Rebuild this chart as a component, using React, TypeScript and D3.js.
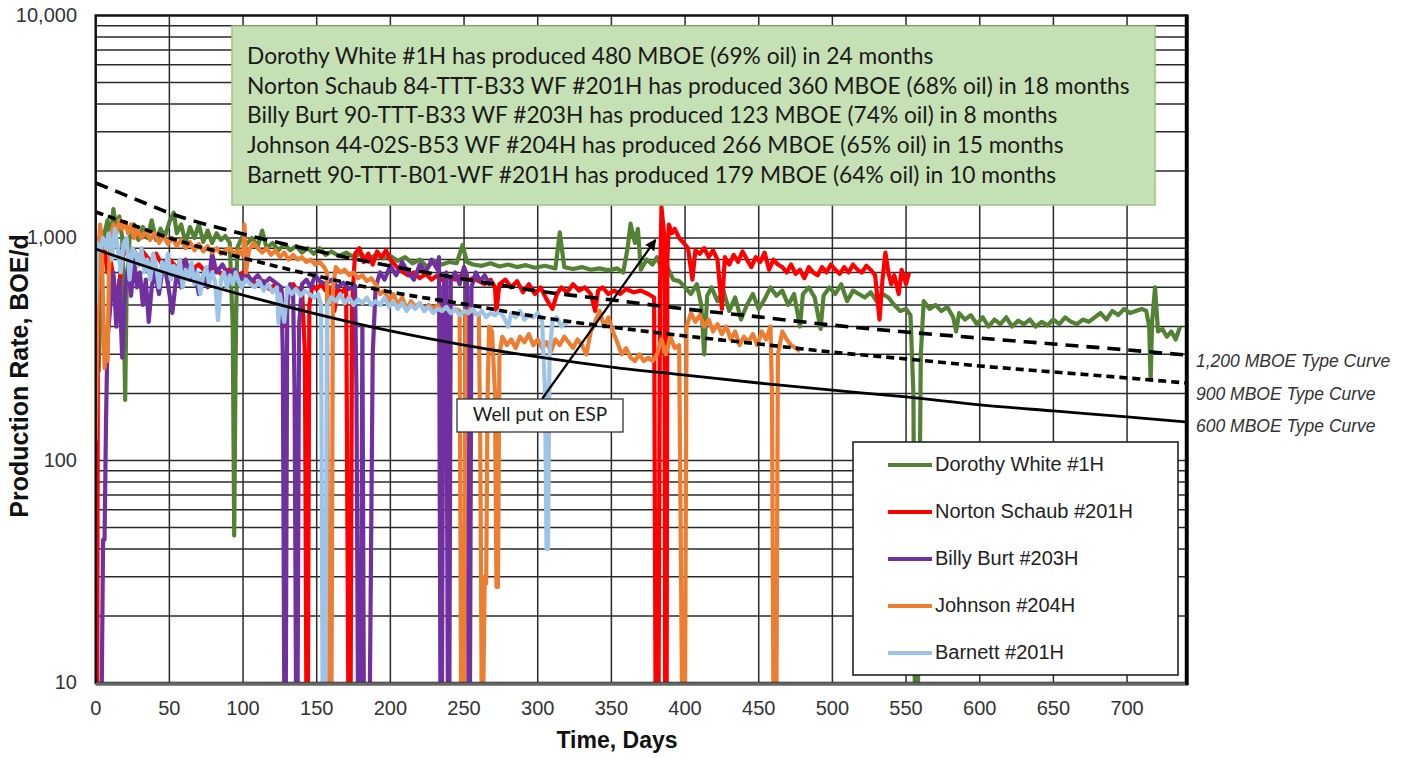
import React, { useEffect, useRef } from "react";
import * as d3 from "d3";

// ---- data ----
const xTicks = [0, 50, 100, 150, 200, 250, 300, 350, 400, 450, 500, 550, 600, 650, 700];
const yTicks = [10, 100, 1000, 10000];

const wellNames = ["Dorothy White #1H", "Norton Schaub #201H", "Billy Burt #203H", "Johnson #204H", "Barnett #201H"];
const wellColors = ["#548235", "#ff0000", "#7030a0", "#ed7d31", "#9dc3e6"];

const dorothyWhite: [number, number][] = [
  [2, 250], [4, 700], [6, 1050], [8, 1200], [10, 950], [12, 1350], [14, 1100], [16, 1250], [18, 1000], [19, 500],
  [20, 187], [21, 600], [23, 1000], [26, 1150], [29, 980], [32, 1120], [35, 1000], [38, 1200], [41, 980], [44, 1100],
  [47, 1020], [50, 1180], [53, 1300], [55, 1050], [58, 1150], [61, 950], [64, 1120], [67, 1000], [70, 1150], [73, 960],
  [76, 1080], [79, 950], [82, 1050], [85, 980], [88, 1020], [91, 950], [93, 400], [94, 46], [95, 300], [96, 900],
  [99, 1000], [102, 930], [106, 1000], [110, 920], [113, 1080], [116, 900], [120, 950], [124, 880], [128, 940], [132, 880],
  [136, 920], [140, 860], [144, 900], [148, 850], [152, 900], [156, 840], [160, 870], [165, 830], [170, 860], [175, 820],
  [180, 850], [185, 800], [190, 840], [195, 810], [200, 830], [205, 790], [210, 820], [215, 770], [220, 800], [225, 740],
  [230, 790], [235, 760], [240, 780], [245, 770], [249, 930], [252, 780], [256, 760], [262, 750], [268, 770], [274, 745],
  [280, 760], [286, 740], [292, 755], [298, 735], [305, 750], [312, 730], [315, 1060], [318, 740], [324, 725], [330, 740],
  [336, 720], [342, 730], [348, 715], [354, 730], [358, 700], [361, 900], [363, 1160], [366, 950], [368, 1100], [370, 720],
  [374, 800], [378, 760], [381, 820], [385, 700], [388, 740], [392, 650], [396, 640], [400, 600], [404, 560], [408, 620],
  [411, 500], [413, 300], [415, 550], [418, 600], [422, 520], [426, 580], [430, 470], [434, 540], [438, 430], [442, 500],
  [446, 560], [450, 480], [454, 530], [458, 600], [462, 550], [466, 580], [470, 500], [474, 560], [478, 400], [480, 560],
  [484, 600], [488, 540], [492, 390], [494, 550], [498, 600], [502, 560], [506, 620], [510, 520], [514, 580], [518, 560],
  [522, 540], [526, 570], [530, 520], [534, 560], [538, 540], [542, 500], [546, 470], [550, 480], [553, 450], [555, 200],
  [556, 8], [558, 8], [560, 300], [562, 520], [566, 480], [570, 500], [574, 470], [578, 490], [582, 440], [584, 380],
  [586, 460], [590, 430], [594, 450], [598, 410], [602, 440], [606, 400], [610, 430], [614, 410], [618, 440], [622, 400],
  [626, 425], [630, 410], [634, 430], [638, 400], [642, 420], [646, 405], [650, 430], [654, 410], [658, 440], [662, 420],
  [666, 410], [670, 430], [674, 420], [678, 440], [682, 460], [686, 430], [690, 470], [694, 450], [698, 480], [702, 460],
  [706, 470], [710, 480], [713, 470], [715, 400], [716, 230], [717, 420], [719, 600], [721, 380], [724, 390], [727, 360],
  [730, 380], [733, 350], [736, 400],
];

const nortonSchaub: [number, number][] = [
  [0, 8], [1, 8], [1.5, 500], [2, 850], [4, 750], [6, 900], [8, 700], [10, 800], [13, 600], [15, 450],
  [17, 750], [20, 900], [23, 820], [26, 880], [29, 800], [32, 870], [35, 820], [38, 780], [41, 850], [45, 760],
  [50, 800], [55, 740], [60, 780], [65, 720], [70, 760], [75, 700], [80, 740], [85, 690], [90, 720], [95, 660],
  [100, 700], [105, 650], [110, 620], [114, 640], [118, 590], [122, 620], [126, 580], [129, 400], [131, 600], [134, 620],
  [137, 580], [140, 600], [142, 300], [143, 8], [144, 8], [145, 500], [147, 610], [150, 590], [153, 620], [156, 580],
  [159, 600], [162, 470], [164, 590], [167, 570], [170, 600], [171.5, 8], [173, 8], [174, 500], [176, 850], [179, 900],
  [182, 780], [185, 850], [188, 760], [191, 870], [194, 820], [197, 880], [200, 800], [203, 760], [206, 720], [209, 700],
  [212, 680], [216, 700], [220, 660], [224, 690], [228, 650], [232, 680], [236, 640], [240, 670], [244, 650], [248, 680],
  [252, 640], [256, 660], [260, 640], [264, 620], [268, 650], [271, 600], [272, 470], [274, 620], [278, 650], [282, 600],
  [286, 640], [290, 570], [294, 620], [298, 560], [302, 600], [306, 530], [310, 480], [313, 560], [316, 600], [320, 570],
  [324, 620], [328, 580], [332, 600], [336, 560], [339, 470], [341, 580], [344, 600], [348, 560], [352, 580], [356, 560],
  [360, 590], [365, 570], [370, 580], [375, 560], [379, 540], [380, 8], [382, 8], [383, 600], [384, 1380], [386, 1000],
  [386.5, 8], [387.5, 8], [388, 800], [389, 1150], [391, 1050], [393, 1100], [396, 1000], [399, 950], [402, 900], [405, 650],
  [407, 880], [410, 850], [413, 900], [416, 820], [419, 880], [422, 800], [425, 480], [427, 820], [430, 760], [433, 840],
  [436, 780], [439, 870], [442, 800], [445, 740], [448, 820], [451, 780], [454, 860], [457, 720], [460, 800], [463, 760],
  [466, 740], [469, 700], [472, 760], [475, 690], [478, 720], [481, 660], [484, 740], [487, 700], [490, 680], [493, 740],
  [496, 700], [499, 760], [502, 720], [505, 690], [508, 740], [511, 700], [514, 760], [517, 720], [520, 700], [523, 750],
  [526, 720], [529, 680], [532, 430], [534, 650], [536, 860], [538, 700], [540, 620], [542, 680], [545, 560], [547, 720],
  [550, 620], [552, 700],
];

const billyBurt: [number, number][] = [
  [4, 8], [5, 44], [6, 44], [7, 150], [8, 350], [10, 500], [12, 700], [14, 400], [16, 650], [18, 290],
  [20, 600], [22, 750], [24, 550], [26, 800], [28, 600], [30, 700], [32, 500], [34, 650], [36, 420], [38, 600],
  [40, 700], [43, 560], [46, 780], [49, 620], [52, 460], [55, 700], [58, 600], [61, 800], [64, 650], [67, 720],
  [70, 560], [73, 680], [76, 600], [79, 850], [82, 700], [86, 760], [90, 680], [94, 720], [98, 650], [102, 700],
  [106, 640], [110, 680], [114, 620], [118, 660], [122, 630], [126, 600], [127, 300], [128, 8], [129, 8], [130, 500],
  [132, 620], [134, 560], [135, 200], [136, 8], [137, 8], [138, 400], [140, 620], [143, 650], [146, 600], [149, 680],
  [152, 640], [156, 620], [160, 650], [164, 600], [168, 630], [172, 590], [176, 610], [177, 200], [178, 8], [180, 8],
  [181, 400], [182, 8], [185, 8], [186, 8], [188, 300], [190, 600], [193, 700], [196, 650], [200, 750], [204, 680],
  [208, 780], [212, 700], [216, 650], [220, 760], [224, 700], [228, 800], [232, 720], [233, 820], [234, 8], [235, 8],
  [236, 600], [238, 700], [239, 8], [240, 8], [241, 650], [244, 700], [247, 620], [250, 740], [252, 680], [253, 8],
  [254, 8], [255, 600], [258, 700], [261, 640], [264, 680], [267, 620], [268, 650],
];

const johnson: [number, number][] = [
  [0, 123], [1, 400], [2, 900], [3, 1150], [4, 1000], [5, 500], [6, 260], [7, 400], [8, 280], [9, 700],
  [10, 1000], [12, 1150], [14, 1050], [16, 1200], [18, 1100], [20, 1180], [22, 1050], [24, 1150], [26, 1000], [28, 1100],
  [31, 1000], [34, 1080], [37, 980], [40, 1050], [43, 950], [46, 1020], [49, 940], [52, 1000], [55, 920], [58, 980],
  [61, 900], [64, 960], [67, 880], [70, 940], [73, 870], [76, 920], [79, 860], [82, 900], [85, 850], [88, 880],
  [91, 900], [94, 850], [97, 880], [100, 830], [101, 1150], [102, 700], [104, 880], [107, 950], [110, 900], [113, 860],
  [116, 900], [119, 840], [122, 880], [125, 820], [128, 860], [131, 800], [134, 840], [137, 800], [140, 820], [143, 780],
  [146, 800], [149, 760], [152, 780], [155, 740], [157, 700], [158, 8], [160, 8], [161, 600], [163, 740], [166, 700],
  [169, 720], [172, 680], [175, 700], [178, 660], [181, 680], [184, 640], [187, 660], [190, 620], [193, 560], [196, 580],
  [199, 520], [202, 560], [205, 500], [208, 540], [211, 480], [214, 520], [217, 490], [220, 510], [223, 470], [226, 500],
  [229, 480], [232, 500], [235, 470], [238, 490], [241, 460], [244, 480], [247, 470], [248, 8], [250, 8], [251, 450],
  [254, 480], [257, 460], [260, 450], [261, 120], [262, 8], [263, 8], [264, 30], [265, 28], [266, 200], [267, 400],
  [269, 380], [271, 200], [272, 27], [273, 27], [274, 300], [276, 360], [279, 330], [282, 350], [285, 320], [288, 360],
  [291, 340], [294, 370], [297, 330], [300, 350], [303, 320], [306, 340], [309, 310], [312, 350], [315, 330], [318, 360],
  [321, 340], [324, 320], [327, 350], [330, 330], [333, 300], [336, 380], [339, 420], [342, 470], [345, 400], [348, 440],
  [351, 380], [354, 340], [357, 300], [360, 320], [363, 290], [366, 280], [369, 300], [372, 280], [375, 290], [378, 280],
  [381, 300], [384, 350], [387, 300], [390, 360], [393, 320], [396, 330], [398, 8], [400, 8], [401, 400], [404, 460],
  [407, 420], [410, 450], [413, 400], [416, 430], [419, 380], [422, 410], [425, 370], [428, 400], [431, 350], [434, 380],
  [437, 330], [440, 360], [443, 340], [446, 370], [449, 330], [452, 380], [455, 350], [458, 400], [459, 200], [460, 8],
  [462, 8], [463, 300], [466, 380], [469, 350], [472, 330], [475, 320], [478, 310],
];

const barnett: [number, number][] = [
  [0, 500], [1, 950], [3, 880], [5, 1000], [7, 900], [9, 1050], [11, 800], [13, 1100], [15, 900], [17, 700],
  [19, 950], [21, 1000], [23, 650], [25, 900], [27, 850], [29, 750], [31, 900], [33, 700], [35, 800], [37, 650],
  [39, 850], [41, 750], [43, 600], [45, 780], [47, 700], [49, 850], [51, 650], [53, 750], [55, 680], [57, 800],
  [59, 600], [61, 720], [63, 650], [65, 780], [67, 620], [69, 700], [71, 560], [73, 680], [75, 740], [77, 620],
  [79, 700], [81, 640], [83, 428], [85, 650], [87, 700], [89, 600], [91, 680], [93, 620], [95, 700], [97, 640],
  [99, 600], [102, 650], [105, 620], [108, 600], [111, 640], [114, 580], [117, 620], [120, 570], [123, 600], [124, 415],
  [125, 560], [128, 420], [130, 600], [133, 560], [136, 590], [139, 550], [142, 580], [145, 560], [148, 540], [151, 560],
  [153, 500], [154, 8], [156, 8], [157, 500], [160, 540], [163, 520], [166, 560], [169, 510], [172, 540], [175, 500],
  [178, 530], [181, 510], [184, 540], [187, 500], [190, 520], [193, 500], [196, 540], [199, 490], [202, 520], [205, 480],
  [208, 510], [211, 470], [214, 500], [217, 480], [220, 510], [223, 470], [226, 490], [229, 460], [232, 480], [235, 470],
  [238, 490], [241, 460], [244, 480], [247, 450], [250, 470], [253, 460], [256, 480], [259, 450], [262, 470], [265, 440],
  [268, 460], [271, 450], [274, 470], [277, 440], [280, 400], [282, 460], [285, 440], [288, 470], [291, 430], [294, 450],
  [297, 440], [300, 460], [303, 420], [305, 200], [306, 40], [307, 40], [308, 300], [310, 420], [313, 440], [316, 400],
  [319, 420], [321, 410],
];

const wells = [dorothyWhite, nortonSchaub, billyBurt, johnson, barnett];

// type curves (BOE/d at the listed days)
const typeCurveDays = [0, 25, 50, 100, 150, 200, 250, 300, 350, 400, 450, 500, 550, 600, 650, 700, 740];
const typeCurve1200 = [1767, 1513, 1296, 1042, 874, 748, 654, 578, 527, 480, 442, 406, 378, 355, 334, 314, 298];
const typeCurve900 = [1309, 1144, 1000, 813, 675, 572, 505, 442, 398, 363, 334, 307, 286, 266, 250, 235, 223];
const typeCurve600 = [892, 780, 689, 554, 455, 382, 330, 292, 263, 242, 223, 207, 193, 178, 167, 157, 149];
const typeCurveLabels = ["1,200 MBOE Type Curve", "900 MBOE Type Curve", "600 MBOE Type Curve"];

const noteLines = [
  "Dorothy White #1H has produced 480 MBOE (69% oil) in 24 months",
  "Norton Schaub 84-TTT-B33 WF #201H has produced 360 MBOE (68% oil) in 18 months",
  "Billy Burt 90-TTT-B33 WF #203H has produced 123 MBOE (74% oil) in 8 months",
  "Johnson 44-02S-B53 WF #204H has produced 266 MBOE (65% oil) in 15 months",
  "Barnett 90-TTT-B01-WF #201H has produced 179 MBOE (64% oil) in 10 months",
];

const espNote = "Well put on ESP";
const espDay = 384;
const espRate = 1000;

export default function App() {
  const ref = useRef<SVGSVGElement>(null);

  useEffect(() => {
    const svg = d3.select(ref.current);
    svg.selectAll("*").remove();

    const W = 1416;
    const H = 758;
    const left = 95.7, right = 1186, top = 15.5, bottom = 683;

    const x = d3.scaleLinear().domain([0, 740]).range([left, right]);
    const y = d3.scaleLog().domain([10, 10000]).range([bottom, top]);

    svg.attr("width", W).attr("height", H);
    svg.append("rect").attr("width", W).attr("height", H).attr("fill", "#fff");

    svg.append("defs").append("clipPath").attr("id", "plotClip")
      .append("rect").attr("x", left).attr("y", top)
      .attr("width", right - left).attr("height", bottom - top);

    // gridlines
    const grid = svg.append("g").attr("stroke", "#2a2a2a").attr("stroke-width", 1.5);
    const minorY: number[] = [];
    [10, 100, 1000].forEach(d => {
      for (let k = 1; k <= 9; k++) minorY.push(d * k);
    });
    grid.selectAll("line.h").data(minorY.filter(v => v > 10)).enter().append("line")
      .attr("x1", left).attr("x2", right)
      .attr("y1", d => y(d)).attr("y2", d => y(d));
    grid.selectAll("line.v").data(xTicks.slice(1)).enter().append("line")
      .attr("x1", d => x(d)).attr("x2", d => x(d))
      .attr("y1", top).attr("y2", bottom);

    // wells
    const line = d3.line<[number, number]>()
      .x(d => x(d[0]))
      .y(d => y(Math.max(d[1], 5)));
    const series = svg.append("g").attr("clip-path", "url(#plotClip)");
    wells.forEach((w, i) => {
      series.append("path").attr("d", line(w) as string)
        .attr("fill", "none").attr("stroke", wellColors[i])
        .attr("stroke-width", 4.2).attr("stroke-linejoin", "round");
    });

    // type curves
    const curveLine = d3.line<number>()
      .x((_, i) => x(typeCurveDays[i]))
      .y(d => y(d))
      .curve(d3.curveMonotoneX);
    const curves = [
      { data: typeCurve1200, dash: "13,8", w: 3.6 },
      { data: typeCurve900, dash: "8,5", w: 3.6 },
      { data: typeCurve600, dash: null, w: 2.8 },
    ];
    curves.forEach(c => {
      const p = svg.append("path").attr("d", curveLine(c.data) as string)
        .attr("fill", "none").attr("stroke", "#000").attr("stroke-width", c.w);
      if (c.dash) p.attr("stroke-dasharray", c.dash);
    });

    // plot border
    svg.append("rect").attr("x", left).attr("y", top)
      .attr("width", right - left).attr("height", bottom - top)
      .attr("fill", "none").attr("stroke", "#111").attr("stroke-width", 2.5);
    svg.append("line").attr("x1", left).attr("x2", right + 2)
      .attr("y1", bottom + 1).attr("y2", bottom + 1)
      .attr("stroke", "#666").attr("stroke-width", 3.5);
    svg.append("line").attr("x1", right + 1).attr("x2", right + 1)
      .attr("y1", top - 1).attr("y2", bottom + 2)
      .attr("stroke", "#000").attr("stroke-width", 3.5);

    // tick labels
    const tickFont = "'Liberation Sans', Arial, sans-serif";
    svg.append("g").selectAll("text").data(yTicks).enter().append("text")
      .attr("x", 77).attr("y", d => y(d) + 1)
      .attr("text-anchor", "end").attr("dominant-baseline", "middle")
      .attr("font-family", tickFont).attr("font-size", 20).attr("fill", "#333")
      .text(d => d3.format(",")(d));
    svg.append("g").selectAll("text").data(xTicks).enter().append("text")
      .attr("x", d => x(d)).attr("y", 710)
      .attr("text-anchor", "middle").attr("dominant-baseline", "middle")
      .attr("font-family", tickFont).attr("font-size", 20).attr("fill", "#333")
      .text(d => String(d));

    // axis titles
    svg.append("text").attr("x", 617).attr("y", 748)
      .attr("text-anchor", "middle").attr("font-family", tickFont)
      .attr("font-weight", "bold").attr("font-size", 23).attr("fill", "#111")
      .text("Time, Days");
    svg.append("text").attr("transform", "translate(28,376) rotate(-90)")
      .attr("text-anchor", "middle").attr("font-family", tickFont)
      .attr("font-weight", "bold").attr("font-size", 25).attr("fill", "#111")
      .text("Production Rate, BOE/d");

    // type curve labels
    svg.append("g").selectAll("text").data(typeCurveLabels).enter().append("text")
      .attr("x", 1196).attr("y", (_, i) => 367 + i * 32.5)
      .attr("font-family", tickFont).attr("font-style", "italic")
      .attr("font-size", 17.5).attr("fill", "#333")
      .text(d => d);

    // note box
    const noteFont = "Lato, 'Open Sans', sans-serif";
    svg.append("rect").attr("x", 232).attr("y", 26).attr("width", 923).attr("height", 179)
      .attr("fill", "#c5e0b4").attr("stroke", "#9fc287").attr("stroke-width", 1.5);
    const notes = svg.append("g").attr("font-family", noteFont).attr("fill", "#1a1a1a").attr("font-size", 20);
    notes.selectAll("text").data(noteLines).enter().append("text")
      .attr("x", 247).attr("y", (_, i) => 64 + i * 29.7)
      .text(d => d);
    // fit the widest line into the box the way the original does
    const widest = notes.selectAll<SVGTextElement, string>("text").nodes()[1];
    const natural = widest.getComputedTextLength();
    if (natural > 0) notes.attr("font-size", 20 * 883 / natural);

    // ESP callout
    svg.append("defs").append("marker").attr("id", "arrowHead")
      .attr("viewBox", "0 0 10 10").attr("refX", 9).attr("refY", 5)
      .attr("markerWidth", 5).attr("markerHeight", 5).attr("orient", "auto")
      .append("path").attr("d", "M0,0 L10,5 L0,10 z").attr("fill", "#000");
    svg.append("line").attr("x1", 542).attr("y1", 399)
      .attr("x2", x(espDay) - 6).attr("y2", y(espRate) + 2)
      .attr("stroke", "#000").attr("stroke-width", 2.2)
      .attr("marker-end", "url(#arrowHead)");
    svg.append("rect").attr("x", 457).attr("y", 399).attr("width", 166).attr("height", 33)
      .attr("fill", "#fff").attr("stroke", "#333").attr("stroke-width", 1.3);
    svg.append("text").attr("x", 540).attr("y", 416)
      .attr("text-anchor", "middle").attr("dominant-baseline", "middle")
      .attr("font-family", noteFont).attr("font-size", 19).attr("fill", "#1a1a1a")
      .text(espNote);

    // legend
    svg.append("rect").attr("x", 853).attr("y", 442).attr("width", 325).attr("height", 233)
      .attr("fill", "#fff").attr("stroke", "#222").attr("stroke-width", 1.6);
    const legend = svg.append("g").selectAll("g").data(wellNames).enter().append("g")
      .attr("transform", (_, i) => `translate(0, ${465 + i * 47})`);
    legend.append("line").attr("x1", 888).attr("x2", 932)
      .attr("stroke", (_, i) => wellColors[i]).attr("stroke-width", 4);
    legend.append("text").attr("x", 935).attr("y", 1)
      .attr("dominant-baseline", "middle")
      .attr("font-family", tickFont).attr("font-size", 20).attr("fill", "#222")
      .text(d => d);
  }, []);

  return (
    <svg ref={ref} style={{ position: "absolute", left: 0, top: 0, display: "block" }} />
  );
}
